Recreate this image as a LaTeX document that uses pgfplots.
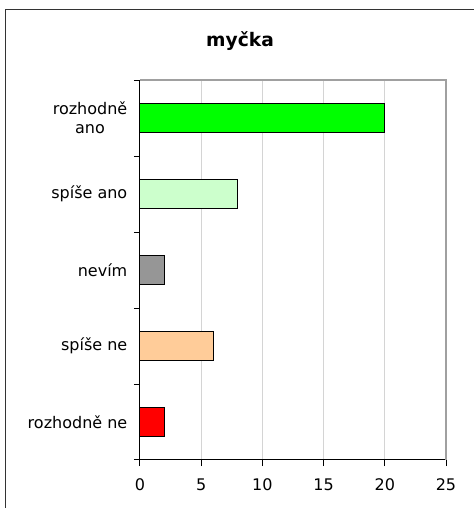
\documentclass[border=0pt]{standalone}
\usepackage{pgfplots}
\pgfplotsset{compat=1.18}
\usepackage{fontspec}
\setmainfont{DejaVu Sans}
\definecolor{cgreen}{HTML}{00FF00}
\definecolor{clgreen}{HTML}{CCFFCC}
\definecolor{cgray}{HTML}{969696}
\definecolor{cpeach}{HTML}{FFCC99}
\definecolor{cred}{HTML}{FF0000}
\definecolor{gridc}{HTML}{D4D4D4}
\definecolor{framec}{HTML}{A0A0A0}
\begin{document}
\begin{tikzpicture}[x=0.75pt,y=0.75pt]
\useasboundingbox (0,0) rectangle (474,508);
\draw[line width=1.1pt,color=black!80] (5.5,0) -- (5.5,498.5) -- (474,498.5);
\node[anchor=base,font=\bfseries\fontsize{14}{16}\selectfont] at (240,461) {myčka};
\begin{axis}[
  at={(105pt,36pt)}, anchor=south west,
  scale only axis, width=229.5pt, height=285pt,
  xmin=0, xmax=25, xtick={0,5,...,25},
  ymin=-0.5, ymax=4.5,
  axis lines=left, axis line style={-, line width=0.75pt, black},
  tick align=outside, major tick length=4.5pt,
  tick style={black, line width=0.75pt},
  ytick={-0.5,0.5,...,4.5}, yticklabels={{},{},{},{},{},{}},
  extra y ticks={0,1,2,3,4},
  extra y tick labels={rozhodně ne,spíše ne,nevím,spíše ano,rozhodně\\ano},
  extra y tick style={major tick length=0pt, yticklabel style={align=center, xshift=-6pt}},
  xticklabel style={yshift=-6pt},
  xmajorgrids, grid style={gridc, line width=0.75pt},
  ticklabel style={font=\fontsize{12}{14}\selectfont},
  /pgf/number format/assume math mode=true,
  bar width=0.39, bar shift=0pt,
  clip=false,
]
\addplot[xbar, fill=cred, draw=black, line width=0.75pt] coordinates {(2,0)};
\addplot[xbar, fill=cpeach, draw=black, line width=0.75pt] coordinates {(6,1)};
\addplot[xbar, fill=cgray, draw=black, line width=0.75pt] coordinates {(2,2)};
\addplot[xbar, fill=clgreen, draw=black, line width=0.75pt] coordinates {(8,3)};
\addplot[xbar, fill=cgreen, draw=black, line width=0.75pt] coordinates {(20,4)};
\draw[framec, line width=1pt] (rel axis cs:0,1) -- (rel axis cs:1,1) -- (rel axis cs:1,0);
\end{axis}
\end{tikzpicture}
\end{document}
